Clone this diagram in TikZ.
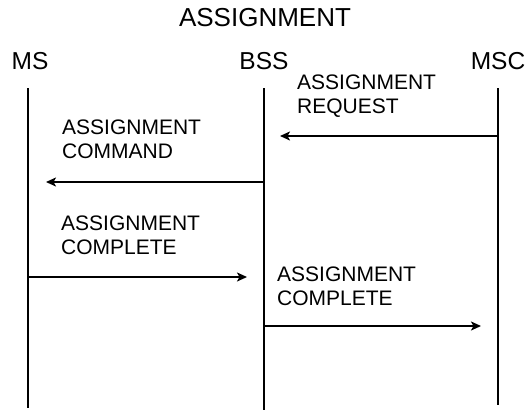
\documentclass[tikz,border=0pt]{standalone}
\usepackage{fontspec}
\setmainfont{Liberation Sans}
\usetikzlibrary{arrows.meta}

\begin{document}
\begin{tikzpicture}[x=1pt,y=-1pt]
\tikzstyle{every node}=[inner sep=0pt]
\tikzstyle{entity}=[font=\fontsize{24.5}{28}\selectfont]
\tikzstyle{msg}=[anchor=north west, align=left, font=\fontsize{21}{23.5}\selectfont]
\tikzstyle{life}=[line width=2pt]
\tikzstyle{call}=[line width=2pt, -{Stealth[length=10pt,width=9pt,inset=2.5pt]}]
\useasboundingbox (0,0) rectangle (529,410);
\draw (265,18) node (title) [font=\fontsize{26}{30}\selectfont] {ASSIGNMENT};
\draw (30,61) node (ms) [entity] {MS};
\draw (264,61) node (bss) [entity] {BSS};
\draw (498,61) node (msc) [entity] {MSC};
\coordinate (msend) at (28,408);
\coordinate (bssend) at (264,410);
\coordinate (mscend) at (498,405);
\draw[life] (28,88) -- (msend);
\draw[life] (264,88) -- (bssend);
\draw[life] (498,88) -- (mscend);
% messages
\coordinate (req1) at (498,136);
\coordinate (req2) at (280,136);
\coordinate (cmd1) at (264,182);
\coordinate (cmd2) at (46,182);
\coordinate (cpl1) at (28,277);
\coordinate (cpl2) at (247,277);
\coordinate (fwd1) at (264,326);
\coordinate (fwd2) at (481,326);
\draw[call] (req1) -- (req2);
\draw[call] (cmd1) -- (cmd2);
\draw[call] (cpl1) -- (cpl2);
\draw[call] (fwd1) -- (fwd2);
\draw (297,75) node (reqtxt) [msg] {ASSIGNMENT\\REQUEST};
\draw (62,120) node (cmdtxt) [msg] {ASSIGNMENT\\COMMAND};
\draw (61,216) node (cpltxt) [msg] {ASSIGNMENT\\COMPLETE};
\draw (277,267) node (fwdtxt) [msg] {ASSIGNMENT\\COMPLETE};
\end{tikzpicture}
\end{document}
